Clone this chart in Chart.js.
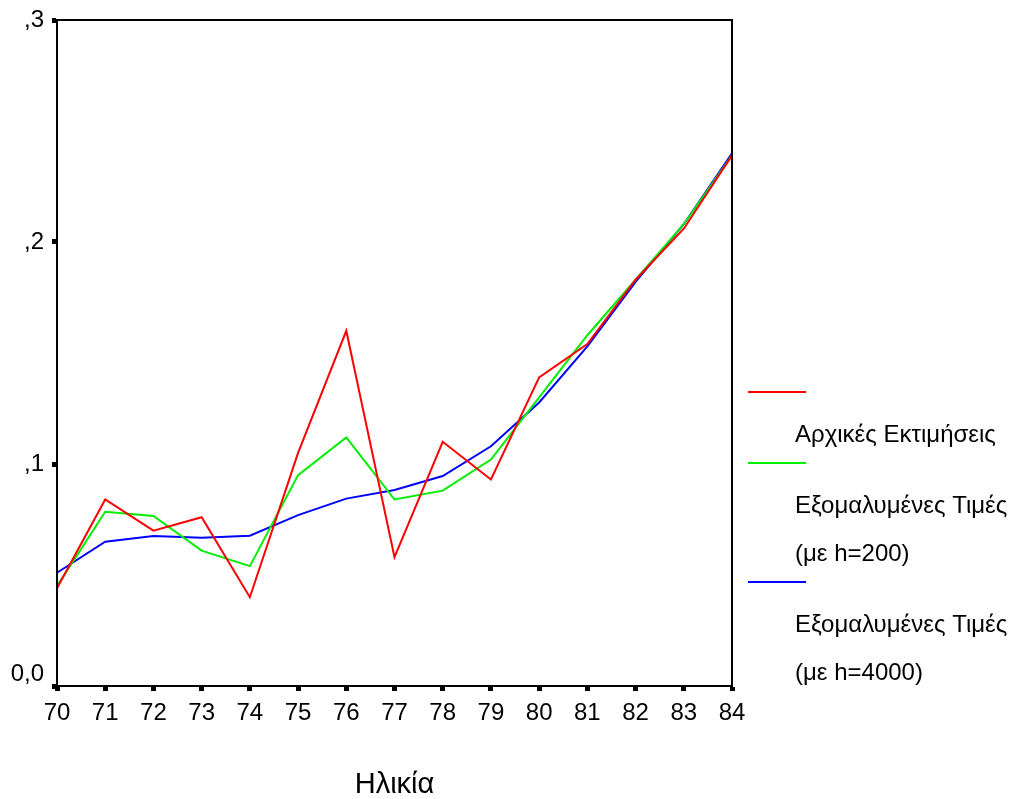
<!DOCTYPE html>
<html>
<head>
<meta charset="utf-8">
<script src="https://cdn.jsdelivr.net/npm/chart.js@4/dist/chart.umd.min.js"></script>
<style>
  body { margin: 0; background: #fff; }
  canvas { display: block; }
</style>
</head>
<body>
<canvas id="myChart" width="1015" height="799"></canvas>
<script>
// ages on the x axis
const ages = ['70','71','72','73','74','75','76','77','78','79','80','81','82','83','84'];
// initial estimates
const initial = [0.044, 0.084, 0.070, 0.076, 0.040, 0.105, 0.160, 0.058, 0.110, 0.093, 0.139, 0.154, 0.183, 0.206, 0.239];
// smoothed h=200
const smooth200 = [0.045, 0.0785, 0.0766, 0.061, 0.054, 0.095, 0.112, 0.084, 0.088, 0.102, 0.130, 0.158, 0.183, 0.208, 0.239];
// smoothed h=4000
const smooth4000 = [0.051, 0.065, 0.0676, 0.0668, 0.0677, 0.077, 0.0844, 0.0883, 0.0946, 0.108, 0.1277, 0.153, 0.182, 0.208, 0.240];
const yTicks = [0, 0.1, 0.2, 0.3];
const legendLabels = [
  ['Αρχικές Εκτιμήσεις'],
  ['Εξομαλυμένες Τιμές', '(με h=200)'],
  ['Εξομαλυμένες Τιμές', '(με h=4000)']
];

const FONT = 'Arial, "Liberation Sans", sans-serif';

// frame around the plot
const frame = {
  id: 'frame',
  afterDatasetsDraw(chart) {
    const a = chart.chartArea, c = chart.ctx;
    c.save();
    c.strokeStyle = '#000';
    c.lineWidth = 2;
    c.strokeRect(a.left, a.top, a.right - a.left, a.bottom - a.top);
    c.restore();
  }
};

// legend at the right, lines above their labels
const sideLegend = {
  id: 'sideLegend',
  afterDraw(chart) {
    const c = chart.ctx;
    let y = 392;
    c.save();
    c.font = '24px ' + FONT;
    c.textBaseline = 'middle';
    c.fillStyle = '#000';
    chart.data.datasets.forEach(function(ds) {
      c.strokeStyle = ds.borderColor;
      c.lineWidth = 2;
      c.beginPath();
      c.moveTo(748, y);
      c.lineTo(806, y);
      c.stroke();
      y += 43;
      ds.label.forEach(function(t, i) {
        c.fillText(t, 795, y);
        if (i < ds.label.length - 1) y += 48;
      });
      y += 28;
    });
    c.restore();
  }
};

const ctx = document.getElementById('myChart').getContext('2d');
const myChart = new Chart(ctx, {
  type: 'line',
  data: {
    labels: ages,
    datasets: [
      { label: legendLabels[0], data: initial, borderColor: '#ff0000', borderWidth: 2, pointRadius: 0, tension: 0 },
      { label: legendLabels[1], data: smooth200, borderColor: '#00ee00', borderWidth: 2, pointRadius: 0, tension: 0 },
      { label: legendLabels[2], data: smooth4000, borderColor: '#0000ff', borderWidth: 2, pointRadius: 0, tension: 0 }
    ]
  },
  options: {
    responsive: false,
    animation: false,
    layout: { padding: { left: 0, right: 283, top: 19, bottom: 0 } },
    plugins: { legend: { display: false }, tooltip: { enabled: false } },
    scales: {
      x: {
        grid: { drawOnChartArea: false, tickLength: 5, tickWidth: 5, color: '#000' },
        border: { color: '#000', width: 2 },
        ticks: { color: '#000', font: { size: 24, family: FONT }, padding: 8, maxRotation: 0, autoSkip: false },
        title: { display: true, text: 'Ηλικία', color: '#000', font: { size: 29, family: FONT, lineHeight: 1 }, padding: 0 },
        afterFit(scale) { scale.height = 113; }
      },
      y: {
        min: 0,
        max: 0.3,
        afterBuildTicks(scale) { scale.ticks = yTicks.map(v => ({ value: v })); },
        grid: { drawOnChartArea: false, tickLength: 5, tickWidth: 5, color: '#000' },
        border: { color: '#000', width: 2 },
        ticks: {
          color: '#000',
          font: { size: 24, family: FONT, lineHeight: 1 },
          padding: 8,
          // the bottom label sits a half line above its tick
          callback: function(v) { return v === 0 ? ['0,0', ''] : ',' + Math.round(v * 10); }
        },
        afterFit(scale) { scale.width = 57; }
      }
    }
  },
  plugins: [frame, sideLegend]
});
</script>
</body>
</html>
